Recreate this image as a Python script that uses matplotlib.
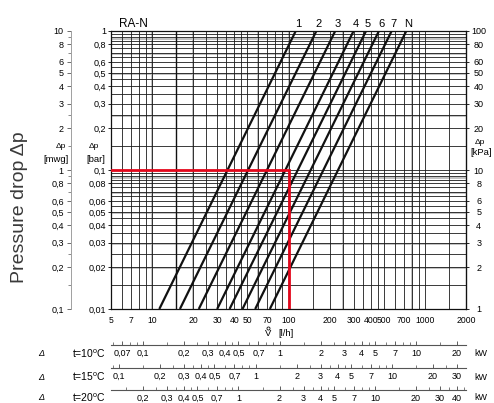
import matplotlib
matplotlib.use('Agg')
import matplotlib.pyplot as plt
from matplotlib.lines import Line2D
from matplotlib.ticker import FixedLocator, FixedFormatter, NullLocator, NullFormatter

plt.rcParams['font.family'] = ['Liberation Sans', 'DejaVu Sans']
plt.rcParams['mathtext.fontset'] = 'custom'
plt.rcParams['mathtext.rm'] = 'Liberation Sans'
plt.rcParams['mathtext.it'] = 'Liberation Sans:italic'

# ---- data -------------------------------------------------------------
presettings = ['1', '2', '3', '4', '5', '6', '7', 'N']
flow_low = [11.3, 16.0, 22.0, 30.0, 37.0, 46.0, 57.0, 73.0]   # l/h at 0.01 bar
flow_high = [113, 160, 220, 300, 370, 460, 570, 730]          # l/h at 1 bar
dp_low, dp_high = 0.01, 1.0                                   # bar

example_flow = 100    # l/h
example_dp = 0.1      # bar

flow_ticks = [5, 7, 10, 20, 30, 40, 50, 70, 100, 200, 300, 400, 500, 700, 1000, 2000]
bar_ticks = [0.01, 0.02, 0.03, 0.04, 0.05, 0.06, 0.08, 0.1,
             0.2, 0.3, 0.4, 0.5, 0.6, 0.8, 1]
mwg_ticks = [0.1, 0.2, 0.3, 0.4, 0.5, 0.6, 0.8, 1, 2, 3, 4, 5, 6, 8, 10]
mwg_minor = [0.15, 0.25, 0.7, 0.9, 1.5, 2.5, 7, 9]
kpa_ticks = [1, 2, 3, 4, 5, 6, 8, 10, 20, 30, 40, 50, 60, 80, 100]

delta_t = [10, 15, 20]
kw_ticks = [
    [0.07, 0.1, 0.2, 0.3, 0.4, 0.5, 0.7, 1, 2, 3, 4, 5, 7, 10, 20],
    [0.1, 0.2, 0.3, 0.4, 0.5, 0.7, 1, 2, 3, 4, 5, 7, 10, 20, 30],
    [0.2, 0.3, 0.4, 0.5, 0.7, 1, 2, 3, 4, 5, 7, 10, 20, 30, 40],
]

MWG_PER_BAR = 10.0              # scale of the water-gauge column (≈10 m per bar)
MWG_IN_BAR = 0.0980665          # exact 1 m water gauge in bar, for the fine lines
KW_PER_LH_K = 1.163e-3          # kW per (l/h * K) for water

# ---- layout helpers ---------------------------------------------------
W, H = 494, 403
L, R, T, B = 111, 466, 31, 309


def fx(px):
    return px / W


def fy(py):
    return 1 - py / H


def fmt(v):
    return f'{v:g}'.replace('.', ',')


def log_grid(lo, hi, subs):
    vals = []
    for e in range(-3, 5):
        for s in subs:
            v = s * 10.0 ** e
            if lo * 1.0001 < v < hi * 0.9999:
                vals.append(v)
    return vals


fig = plt.figure(figsize=(W / 100, H / 100), dpi=100)
ax = fig.add_axes([fx(L), fy(B), (R - L) / W, (B - T) / H])
ax.set_xscale('log')
ax.set_yscale('log')
ax.set_xlim(5, 2000)
ax.set_ylim(dp_low, dp_high)
xmin, xmax = ax.get_xlim()

# ---- grid -------------------------------------------------------------
grid_kw = dict(color='#1a1a1a', lw=0.6, zorder=1)
gray_kw = dict(color='#bdbdbd', lw=1.3, zorder=0.9)
for v in log_grid(xmin, xmax, [1, 1.5, 2, 2.5, 3, 3.5, 4, 4.5, 5, 6, 7, 8, 9]):
    ax.axvline(v, **grid_kw)
ax.axvline(15, color='#111111', lw=1.0, zorder=1.1)
for v in [10, 20, 60, 100, 250, 800]:
    ax.axvline(v, **gray_kw)
for v in log_grid(dp_low, dp_high, [1 + 0.5 * k for k in range(18)]):
    ax.axhline(v, **grid_kw)
for m in [0.2, 0.3, 0.5, 0.7, 0.9, 2.5, 5, 7, 9]:
    ax.axhline(m * MWG_IN_BAR, **gray_kw)

# ---- presetting lines -------------------------------------------------
for lab, q0, q1 in zip(presettings, flow_low, flow_high):
    ax.plot([q0, q1], [dp_low, dp_high], color='#111111', lw=1.6,
            solid_capstyle='butt', zorder=3)
    ax.annotate(lab, xy=(q1, dp_high), xytext=(1.5, 3.2),
                textcoords='offset points', ha='center', va='baseline',
                fontsize=8, annotation_clip=False)

# worked example
ax.plot([xmin, example_flow, example_flow], [example_dp, example_dp, dp_low],
        color='#e3061b', lw=2.0, solid_joinstyle='miter', zorder=4)

# ---- axes styling ----------------------------------------------------
for s in ax.spines.values():
    s.set_color('#111111')
    s.set_linewidth(0.9)
ax.xaxis.set_major_locator(FixedLocator(flow_ticks))
ax.xaxis.set_major_formatter(FixedFormatter([fmt(v) for v in flow_ticks]))
ax.xaxis.set_minor_locator(NullLocator())
ax.tick_params(axis='x', length=0, pad=5.0, labelsize=6.2)

ax.yaxis.set_major_locator(FixedLocator(bar_ticks))
ax.yaxis.set_major_formatter(FixedFormatter([fmt(v) for v in bar_ticks]))
ax.yaxis.set_minor_locator(NullLocator())
ax.tick_params(axis='y', direction='out', length=2.2, width=0.6, pad=1.5,
               labelsize=6.5)

# water-gauge scale
mwg = ax.secondary_yaxis(-40 / (R - L),
                         functions=(lambda b: b * MWG_PER_BAR,
                                    lambda m: m / MWG_PER_BAR))
mwg.set_yticks(mwg_ticks, [fmt(v) for v in mwg_ticks])
mwg.yaxis.set_minor_locator(FixedLocator(mwg_minor))
mwg.yaxis.set_minor_formatter(NullFormatter())
mwg.tick_params(which='major', length=3.0, width=0.6, pad=2.2, labelsize=6.5,
                color='#555555')
mwg.tick_params(which='minor', length=2.0, width=0.6, color='#777777')
for s in mwg.spines.values():
    s.set_color('#a0a0a0')
    s.set_linewidth(0.7)

# kPa scale
kpa = ax.secondary_yaxis('right', functions=(lambda b: b * 100,
                                             lambda k: k / 100))
kpa.set_yticks(kpa_ticks, [fmt(v) for v in kpa_ticks])
kpa.yaxis.set_minor_locator(NullLocator())
kpa.tick_params(length=2.2, width=0.6, pad=7.0, labelsize=6.5)
for t in kpa.get_yticklabels():
    t.set_horizontalalignment('center')

# ---- texts -----------------------------------------------------------
fig.text(fx(133), fy(24), 'RA-N', ha='center', va='center', fontsize=8.5)
fig.text(fx(19), fy(207), 'Pressure drop Δp', rotation=90, ha='center',
         va='center', fontsize=14, color='#3a3a3a')
fig.text(fx(61), fy(146), 'Δp', ha='center', va='center', fontsize=6)
fig.text(fx(56), fy(160), '[mwg]', ha='center', va='center', fontsize=6.8)
fig.text(fx(94), fy(146), 'Δp', ha='center', va='center', fontsize=6)
fig.text(fx(96), fy(160), '[bar]', ha='center', va='center', fontsize=6.8)
fig.text(fx(480), fy(143), 'Δp', ha='center', va='center', fontsize=6)
fig.text(fx(481), fy(153), '[kPa]', ha='center', va='center', fontsize=6.8)
# flow symbol: V with a small ring above it
fig.text(fx(268), fy(333), 'V', ha='center', va='center', fontsize=6.8)
fig.add_artist(Line2D([fx(268)], [fy(327.5)], transform=fig.transFigure,
                      marker='o', ms=2.2, mfc='none', mec='#111111', mew=0.6,
                      ls='none'))
fig.text(fx(286), fy(333), '[l/h]', ha='center', va='center', fontsize=6.8)

# ---- heat output scales ---------------------------------------------
row_line_y = [345, 368, 390]
row_label_y = [354, 377, 397.5]
for dt, ticks, ly, ty in zip(delta_t, kw_ticks, row_line_y, row_label_y):
    f = dt * KW_PER_LH_K
    kax = fig.add_axes([fx(L), fy(ly), (R - L) / W, 8 / H])
    kax.set_xscale('log')
    kax.set_xlim(xmin * f, xmax * f)
    kax.patch.set_visible(False)
    for side in ['top', 'left', 'right']:
        kax.spines[side].set_visible(False)
    kax.spines['bottom'].set_color('#555555')
    kax.spines['bottom'].set_linewidth(0.8)
    kax.yaxis.set_major_locator(NullLocator())
    kax.yaxis.set_minor_locator(NullLocator())
    kax.xaxis.set_major_locator(FixedLocator(ticks))
    kax.xaxis.set_major_formatter(FixedFormatter([fmt(v) for v in ticks]))
    lo, hi = kax.get_xlim()
    kax.xaxis.set_minor_locator(FixedLocator(
        log_grid(lo, hi, [1, 1.5, 2, 2.5, 3, 3.5, 4, 4.5, 5, 6, 7, 8, 9])))
    kax.xaxis.set_minor_formatter(NullFormatter())
    kax.tick_params(which='major', direction='in', length=3.0, width=0.6,
                    pad=3.0, labelsize=6.5, color='#444444')
    kax.tick_params(which='minor', direction='in', length=2.0, width=0.6,
                    color='#666666')
    fig.text(fx(41), fy(ty), 'Δ', ha='center', va='center', fontsize=6.5,
             style='italic')
    fig.text(fx(106), fy(ty), f't={dt}' + r'$^{\mathrm{o}}$C', ha='right',
             va='center', fontsize=7.5)
    fig.text(fx(481), fy(ty), 'kW', ha='center', va='center', fontsize=6.5)

fig.savefig('out.png', dpi=100)
